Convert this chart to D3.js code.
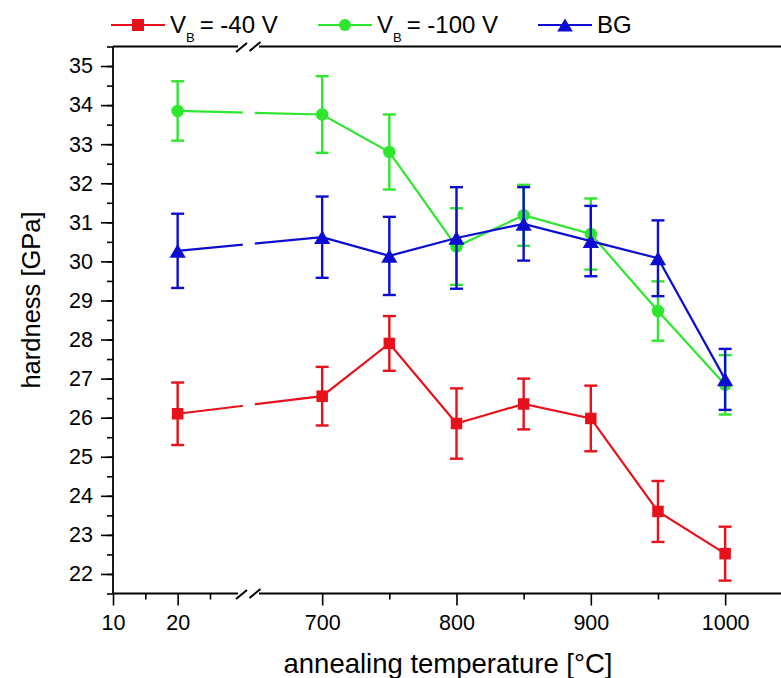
<!DOCTYPE html>
<html>
<head>
<meta charset="utf-8">
<script src="https://cdn.jsdelivr.net/npm/d3@7/dist/d3.min.js"></script>
<style>
  html, body { margin: 0; padding: 0; background: #fff; }
  svg { display: block; font-family: "Liberation Sans", Arial, sans-serif; }
</style>
</head>
<body>
<svg id="chart" width="781" height="678"></svg>
<script>
// Annealing temperatures (°C) of the samples
const temps = [20, 700, 750, 800, 850, 900, 950, 1000];

// Hardness (GPa) and standard deviation per series
const hardness40  = [26.10, 26.55, 27.90, 25.85, 26.35, 25.98, 23.60, 22.52];
const err40       = [0.80, 0.75, 0.70, 0.90, 0.65, 0.84, 0.78, 0.69];
const hardness100 = [33.85, 33.76, 32.80, 30.38, 31.18, 30.70, 28.73, 26.84];
const err100      = [0.76, 0.98, 0.96, 0.98, 0.78, 0.91, 0.76, 0.76];
const hardnessBG  = [30.27, 30.62, 30.14, 30.60, 30.96, 30.52, 30.08, 26.98];
const errBG       = [0.95, 1.04, 1.00, 1.30, 0.94, 0.90, 0.97, 0.78];

// Axis ticks (broken x axis: low segment and high segment)
const xTicksLow   = [10, 20];
const xMinorLow   = [15, 25];
const xTicksHigh  = [700, 800, 900, 1000];
const xMinorHigh  = [750, 850, 950];
const yTicks      = d3.range(22, 36, 1);
const yMinor      = d3.range(21.5, 35.51, 0.5);

const seriesNames = ["V_B = -40 V", "V_B = -100 V", "BG"];

const series = [
  { name: seriesNames[0], values: hardness40,  errors: err40,  color: "#e8111b", symbol: "square" },
  { name: seriesNames[1], values: hardness100, errors: err100, color: "#2fe62f", symbol: "circle" },
  { name: seriesNames[2], values: hardnessBG,  errors: errBG,  color: "#0d0dd2", symbol: "triangle" }
];

const svg = d3.select("#chart");
const W = 781, H = 678;

// Plot frame
const plotLeft = 113, plotTop = 46.5, plotBottom = 593.5;
const breakL = 242.3, breakR = 255;   // pixel gap of the x-axis break

const xLow  = d3.scaleLinear().domain([10, 30]).range([plotLeft, breakL]);
const xHigh = d3.scaleLinear().domain([650, 1050]).range([breakR, 792.3]);
const xPos = t => (t < 100 ? xLow(t) : xHigh(t));
const y = d3.scaleLinear().domain([21.5, 35.5]).range([plotBottom, plotTop]);

const font = "Liberation Sans, Arial, sans-serif";

// ---- axes ----
const axisG = svg.append("g");

function styleAxis(g) {
  g.select(".domain").remove();
  g.selectAll(".tick line").attr("stroke", "#000").attr("stroke-width", 1.6);
  g.selectAll(".tick text").attr("fill", "#000").style("font-size", "21.5px").style("font-family", font);
}

// x axis, low segment
axisG.append("g").attr("transform", `translate(0,${plotBottom})`)
  .call(d3.axisBottom(xLow).tickValues(xTicksLow).tickSize(12).tickPadding(9).tickFormat(d3.format("d")))
  .call(styleAxis);
axisG.append("g").attr("transform", `translate(0,${plotBottom})`)
  .call(d3.axisBottom(xLow).tickValues(xMinorLow).tickSize(6).tickFormat(""))
  .call(styleAxis);
// x axis, high segment
axisG.append("g").attr("transform", `translate(0,${plotBottom})`)
  .call(d3.axisBottom(xHigh).tickValues(xTicksHigh).tickSize(12).tickPadding(9).tickFormat(d3.format("d")))
  .call(styleAxis);
axisG.append("g").attr("transform", `translate(0,${plotBottom})`)
  .call(d3.axisBottom(xHigh).tickValues(xMinorHigh).tickSize(6).tickFormat(""))
  .call(styleAxis);

// y axis
axisG.append("g").attr("transform", `translate(${plotLeft},0)`)
  .call(d3.axisLeft(y).tickValues(yTicks).tickSize(12).tickPadding(8).tickFormat(d3.format("d")))
  .call(styleAxis);
axisG.append("g").attr("transform", `translate(${plotLeft},0)`)
  .call(d3.axisLeft(y).tickValues(yMinor).tickSize(6).tickFormat(""))
  .call(styleAxis);

// frame lines (left, bottom and top, with gaps at the break)
const frame = axisG.append("g").attr("stroke", "#000").attr("stroke-width", 1.8).attr("fill", "none");
frame.append("line").attr("x1", plotLeft).attr("x2", plotLeft).attr("y1", plotTop).attr("y2", plotBottom);
[plotTop, plotBottom].forEach(yy => {
  frame.append("line").attr("x1", plotLeft).attr("x2", 238).attr("y1", yy).attr("y2", yy);
  frame.append("line").attr("x1", 259).attr("x2", W + 20).attr("y1", yy).attr("y2", yy);
  // break marks
  [[241.5, yy + 1], [255, yy]].forEach(([cx, cy]) => {
    frame.append("line")
      .attr("x1", cx - 5.5).attr("y1", cy + 4.5)
      .attr("x2", cx + 5.5).attr("y2", cy - 4.5)
      .attr("stroke-width", 2);
  });
});

// axis titles
svg.append("text")
  .attr("x", 448).attr("y", 673)
  .attr("text-anchor", "middle")
  .style("font-size", "27.5px").style("font-family", font)
  .text("annealing temperature [°C]");

svg.append("text")
  .attr("transform", `translate(40,300) rotate(-90)`)
  .attr("text-anchor", "middle")
  .style("font-size", "25.5px").style("font-family", font)
  .text("hardness [GPa]");

// ---- data ----
const defs = svg.append("defs");
const clip = defs.append("clipPath").attr("id", "breakClip");
clip.append("rect").attr("x", 0).attr("y", 0).attr("width", 242.8).attr("height", H);
clip.append("rect").attr("x", 254.8).attr("y", 0).attr("width", W).attr("height", H);

const line = d3.line().x(d => xPos(d.t)).y(d => y(d.v));

function drawMarker(g, symbol, cx, cy, color, s) {
  if (symbol === "square") {
    g.append("rect").attr("x", cx - s / 2).attr("y", cy - s / 2)
      .attr("width", s).attr("height", s).attr("fill", color);
  } else if (symbol === "circle") {
    g.append("circle").attr("cx", cx).attr("cy", cy).attr("r", s / 2).attr("fill", color);
  } else {
    const w = s * 1.3, h = s * 1.1;
    g.append("path")
      .attr("d", `M${cx},${cy - h / 2}L${cx + w / 2},${cy + h / 2}L${cx - w / 2},${cy + h / 2}Z`)
      .attr("fill", color);
  }
}

series.forEach(s => {
  const pts = temps.map((t, i) => ({ t, v: s.values[i], e: s.errors[i] }));
  const g = svg.append("g");

  // error bars
  const eb = g.append("g").attr("stroke", s.color).attr("stroke-width", 2.4);
  pts.forEach(p => {
    const cx = xPos(p.t);
    eb.append("line").attr("x1", cx).attr("x2", cx).attr("y1", y(p.v - p.e)).attr("y2", y(p.v + p.e));
    eb.append("line").attr("x1", cx - 6.5).attr("x2", cx + 6.5).attr("y1", y(p.v - p.e)).attr("y2", y(p.v - p.e));
    eb.append("line").attr("x1", cx - 6.5).attr("x2", cx + 6.5).attr("y1", y(p.v + p.e)).attr("y2", y(p.v + p.e));
  });

  // connecting line, interrupted at the axis break
  g.append("path").datum(pts)
    .attr("d", line)
    .attr("fill", "none").attr("stroke", s.color).attr("stroke-width", 2.2)
    .attr("clip-path", "url(#breakClip)");

  // markers
  const mk = g.append("g");
  pts.forEach(p => drawMarker(mk, s.symbol, xPos(p.t), y(p.v), s.color, s.symbol === "square" ? 11.5 : 12.5));
});

// ---- legend ----
const legend = svg.append("g");
const legendItems = [
  { s: series[0], x0: 111, main: "V", sub: "B", rest: "= -40 V" },
  { s: series[1], x0: 318, main: "V", sub: "B", rest: "= -100 V" },
  { s: series[2], x0: 538, main: "BG", sub: null, rest: null }
];
legendItems.forEach(it => {
  const ly = 25;
  legend.append("line").attr("x1", it.x0).attr("x2", it.x0 + 54).attr("y1", ly).attr("y2", ly)
    .attr("stroke", it.s.color).attr("stroke-width", 2.2);
  drawMarker(legend, it.s.symbol, it.x0 + 27, ly, it.s.color, 12);
  const t = legend.append("text").attr("x", it.x0 + 59).attr("y", 33)
    .style("font-size", "24px").style("font-family", font).attr("fill", "#000");
  t.append("tspan").text(it.main);
  if (it.sub) {
    t.append("tspan").attr("dy", 9).attr("dx", 0).style("font-size", "13px").text(it.sub);
    t.append("tspan").attr("dy", -9).attr("dx", 5).text(it.rest);
  }
});
</script>
</body>
</html>
